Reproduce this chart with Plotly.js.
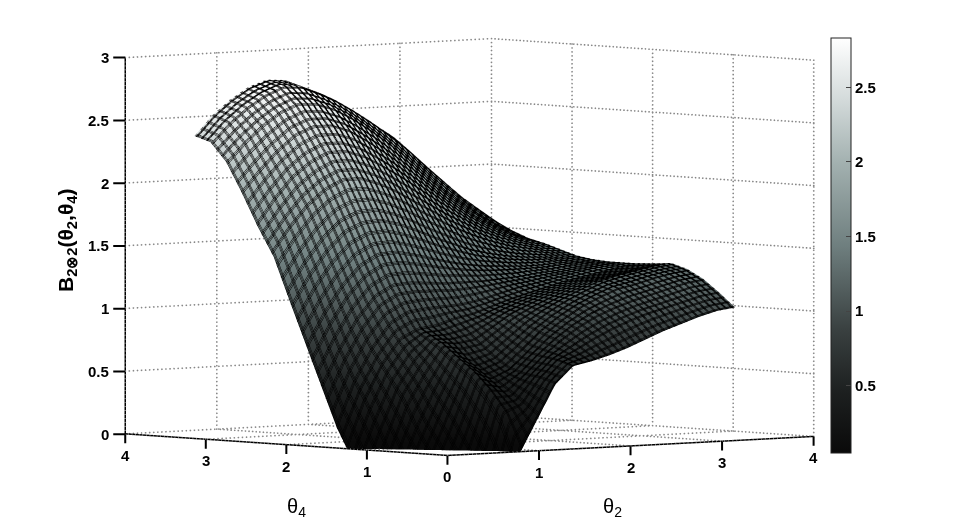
<!DOCTYPE html>
<html>
<head>
<meta charset="utf-8">
<script src="https://cdn.plot.ly/plotly-3.0.1.min.js"></script>
<style>html,body{margin:0;padding:0;background:#fff}</style>
</head>
<body>
<div id="chart" style="width:958px;height:526px"></div>
<script>
// theta grid, roughly pi/16 steps (row 6 sits on the front corner of the surface)
const theta2 = [0,0.196,0.393,0.589,0.785,0.982,1.178,1.374,1.571,1.767,1.963,2.16,2.356,2.553,2.749,2.945,3.142];
const theta4 = [0,0.196,0.393,0.589,0.785,0.982,1.25,1.374,1.571,1.767,1.963,2.16,2.356,2.553,2.749,2.945,3.142];

// where the surface starts on each theta4 row (front edge, B = 0)
const zeroEdge = [0.8,0.677,0.554,0.431,0.308,0.184,0,0,0,0,0,0,0,0,0,0,0];

// values, one row per theta4
const B = [
  [0,0,0,0,0,0.25,0.52,0.66,0.69,0.73,0.78,0.84,0.90,0.95,1.00,1.04,1.06],
  [0,0,0,0,0.30,0.36,0.56,0.70,0.77,0.85,0.92,0.98,1.03,1.07,1.11,1.15,1.17],
  [0,0,0,0.06,0.48,0.46,0.58,0.72,0.84,0.94,1.02,1.08,1.13,1.17,1.21,1.25,1.27],
  [0,0,0,0.28,0.62,0.56,0.62,0.75,0.89,1.00,1.09,1.16,1.22,1.25,1.29,1.32,1.34],
  [0,0,0.14,0.45,0.72,0.66,0.71,0.83,0.95,1.05,1.13,1.20,1.26,1.30,1.33,1.36,1.38],
  [0,0.02,0.40,0.63,0.82,0.80,0.82,0.92,1.02,1.09,1.15,1.20,1.25,1.28,1.31,1.34,1.37],
  [0,0.38,0.66,0.85,0.92,0.94,0.99,1.02,1.07,1.12,1.16,1.20,1.24,1.27,1.30,1.33,1.36],
  [0.16,0.52,0.78,0.97,1.05,1.07,1.08,1.09,1.12,1.16,1.20,1.23,1.26,1.29,1.32,1.34,1.36],
  [0.49,0.78,1.02,1.19,1.27,1.28,1.27,1.26,1.26,1.26,1.27,1.28,1.30,1.31,1.33,1.35,1.36],
  [0.82,1.08,1.29,1.44,1.52,1.53,1.50,1.46,1.42,1.39,1.37,1.36,1.35,1.35,1.36,1.36,1.37],
  [1.15,1.39,1.58,1.72,1.78,1.79,1.75,1.69,1.62,1.56,1.50,1.46,1.43,1.41,1.40,1.39,1.39],
  [1.49,1.69,1.86,1.98,2.05,2.05,2.00,1.93,1.84,1.76,1.68,1.61,1.55,1.50,1.47,1.44,1.43],
  [1.72,1.92,2.09,2.20,2.27,2.27,2.22,2.14,2.05,1.95,1.85,1.76,1.67,1.60,1.54,1.50,1.47],
  [1.98,2.15,2.30,2.42,2.48,2.48,2.43,2.34,2.24,2.13,2.02,1.90,1.80,1.70,1.62,1.55,1.50],
  [2.22,2.37,2.50,2.60,2.66,2.65,2.60,2.52,2.42,2.31,2.19,2.06,1.93,1.82,1.71,1.62,1.55],
  [2.37,2.52,2.64,2.73,2.79,2.78,2.72,2.65,2.56,2.46,2.35,2.23,2.09,1.96,1.83,1.72,1.61],
  [2.41,2.57,2.69,2.78,2.83,2.82,2.76,2.70,2.62,2.53,2.43,2.33,2.20,2.06,1.90,1.78,1.67]
];

const thetaTicks = [0,1,2,3,4];
const zTicks = [0,0.5,1,1.5,2,2.5,3];
const barTicks = [0.5,1,1.5,2,2.5];
const meshStep = 0.062;

const greys = [
  [0,'#0a0a0a'],[0.15,'#1d2020'],[0.3,'#3a4141'],[0.5,'#6f7f7f'],
  [0.7,'#a3b1b0'],[0.85,'#d3dada'],[1,'#ffffff']
];

// dotted grid on the two back walls and the floor, dashes in gl are too long so use dots
function gridTrace() {
  const gx = [], gy = [], gz = [];
  function seg(a, b, n) {
    for (let i = 0; i <= n; i++) {
      gx.push(a[0] + (b[0] - a[0]) * i / n);
      gy.push(a[1] + (b[1] - a[1]) * i / n);
      gz.push(a[2] + (b[2] - a[2]) * i / n);
    }
  }
  thetaTicks.forEach(t => {
    seg([t,4,0],[t,4,3],95);
    seg([4,t,0],[4,t,3],95);
    seg([t,0,0],[t,4,0],90);
    seg([0,t,0],[4,t,0],90);
  });
  zTicks.forEach(h => {
    seg([0,4,h],[4,4,h],90);
    seg([4,0,h],[4,4,h],90);
  });
  return {
    type: 'scatter3d', mode: 'markers', x: gx, y: gy, z: gz,
    marker: { color: '#888', size: 1, line: { width: 0 } },
    showlegend: false, hoverinfo: 'skip'
  };
}

// contour width is stuck at 1px in gl, so the surface is drawn again with the mesh nudged to fatten the lines
function surfaceTrace(nudge, withBar) {
  return {
    type: 'surface',
    x: theta4.map((t, k) => theta2.map(v => Math.max(v, zeroEdge[k]))),
    y: theta4.map(t => theta2.map(() => t)),
    z: B,
    colorscale: greys, cmin: 0.05, cmax: 2.83,
    showscale: withBar,
    lighting: { ambient: 1, diffuse: 0, specular: 0, fresnel: 0, roughness: 1 },
    contours: {
      x: { show: true, start: nudge, end: 3.2, size: meshStep, color: '#000', width: 3 },
      y: { show: true, start: nudge, end: 3.2, size: meshStep, color: '#000', width: 3 }
    },
    colorbar: {
      x: 831/958, xanchor: 'left', y: 1-245.5/526, yanchor: 'middle', len: 415/526, lenmode: 'fraction',
      thickness: 20, thicknessmode: 'pixels',
      tickvals: barTicks, ticktext: barTicks.map(String), ticks: 'inside', ticklen: 5,
      tickcolor: '#444', outlinecolor: '#222', outlinewidth: 1, xpad: 0, ypad: 0,
      tickfont: { family: 'Liberation Sans', size: 15, color: '#000', weight: 700 }
    }
  };
}

function axis(range) {
  return {
    range: range,
    showgrid: false, zeroline: false, showbackground: false, showspikes: false,
    showline: true, linecolor: '#000', linewidth: 3,
    showticklabels: false, ticks: '',
    title: { text: '' }
  };
}

// tick mark + label, pinned on the 3d point
const tickFont = { family: 'Liberation Sans', size: 15, color: '#000', weight: 700 };
function floorTick(x, y, label) {
  return { x: x, y: y, z: 0, text: label, showarrow: true, arrowhead: 0, arrowwidth: 2, arrowcolor: '#000',
    ax: 0, ay: 21, borderpad: 3, font: tickFont };
}
function heightTick(h) {
  return { x: 0, y: 4, z: h, text: String(h), showarrow: true, arrowhead: 0, arrowwidth: 2, arrowcolor: '#000',
    ax: -12, ay: 0, xanchor: 'right', borderpad: 3, font: tickFont };
}
const sceneNotes = []
  .concat(thetaTicks.map(t => floorTick(t, 0, String(t))))
  .concat(thetaTicks.slice(1).map(t => floorTick(0, t, String(t))))
  .concat(zTicks.map(heightTick));

const layout = {
  width: 958, height: 526,
  margin: { l: 0, r: 0, t: 0, b: 0 },
  paper_bgcolor: '#fff',
  showlegend: false,
  scene: {
    domain: { x: [0, 0.98], y: [0.06, 1] },
    xaxis: axis([0,4]),
    yaxis: axis([0,4]),
    zaxis: axis([0,3]),
    aspectmode: 'manual',
    aspectratio: { x: 1.975, y: 1.975, z: 1.526 },
    camera: {
      projection: { type: 'orthographic' },
      center: { x: 0, y: 0, z: 0 },
      up: { x: 0, y: 0, z: 1 },
      eye: { x: -1.32, y: -1.5, z: 0.118 }
    },
    annotations: sceneNotes
  },
  annotations: [
    { xref: 'paper', yref: 'paper', x: 67/958, y: 1-241/526, xanchor: 'center', yanchor: 'middle', showarrow: false, textangle: -90,
      text: '<b>B<sub>2⊗2</sub>(θ<sub>2</sub>,θ<sub>4</sub>)</b>',
      font: { family: 'Liberation Sans', size: 21, color: '#000' } },
    { xref: 'paper', yref: 'paper', x: 296/958, y: 1-507/526, xanchor: 'center', yanchor: 'middle', showarrow: false,
      text: 'θ<sub>4</sub>', font: { family: 'Liberation Sans', size: 20, color: '#000' } },
    { xref: 'paper', yref: 'paper', x: 612/958, y: 1-507/526, xanchor: 'center', yanchor: 'middle', showarrow: false,
      text: 'θ<sub>2</sub>', font: { family: 'Liberation Sans', size: 20, color: '#000' } }
  ]
};

Plotly.newPlot('chart', [gridTrace(), surfaceTrace(0.005, true), surfaceTrace(0.013, false), surfaceTrace(0.021, false)], layout, { displayModeBar: false });
</script>
</body>
</html>
